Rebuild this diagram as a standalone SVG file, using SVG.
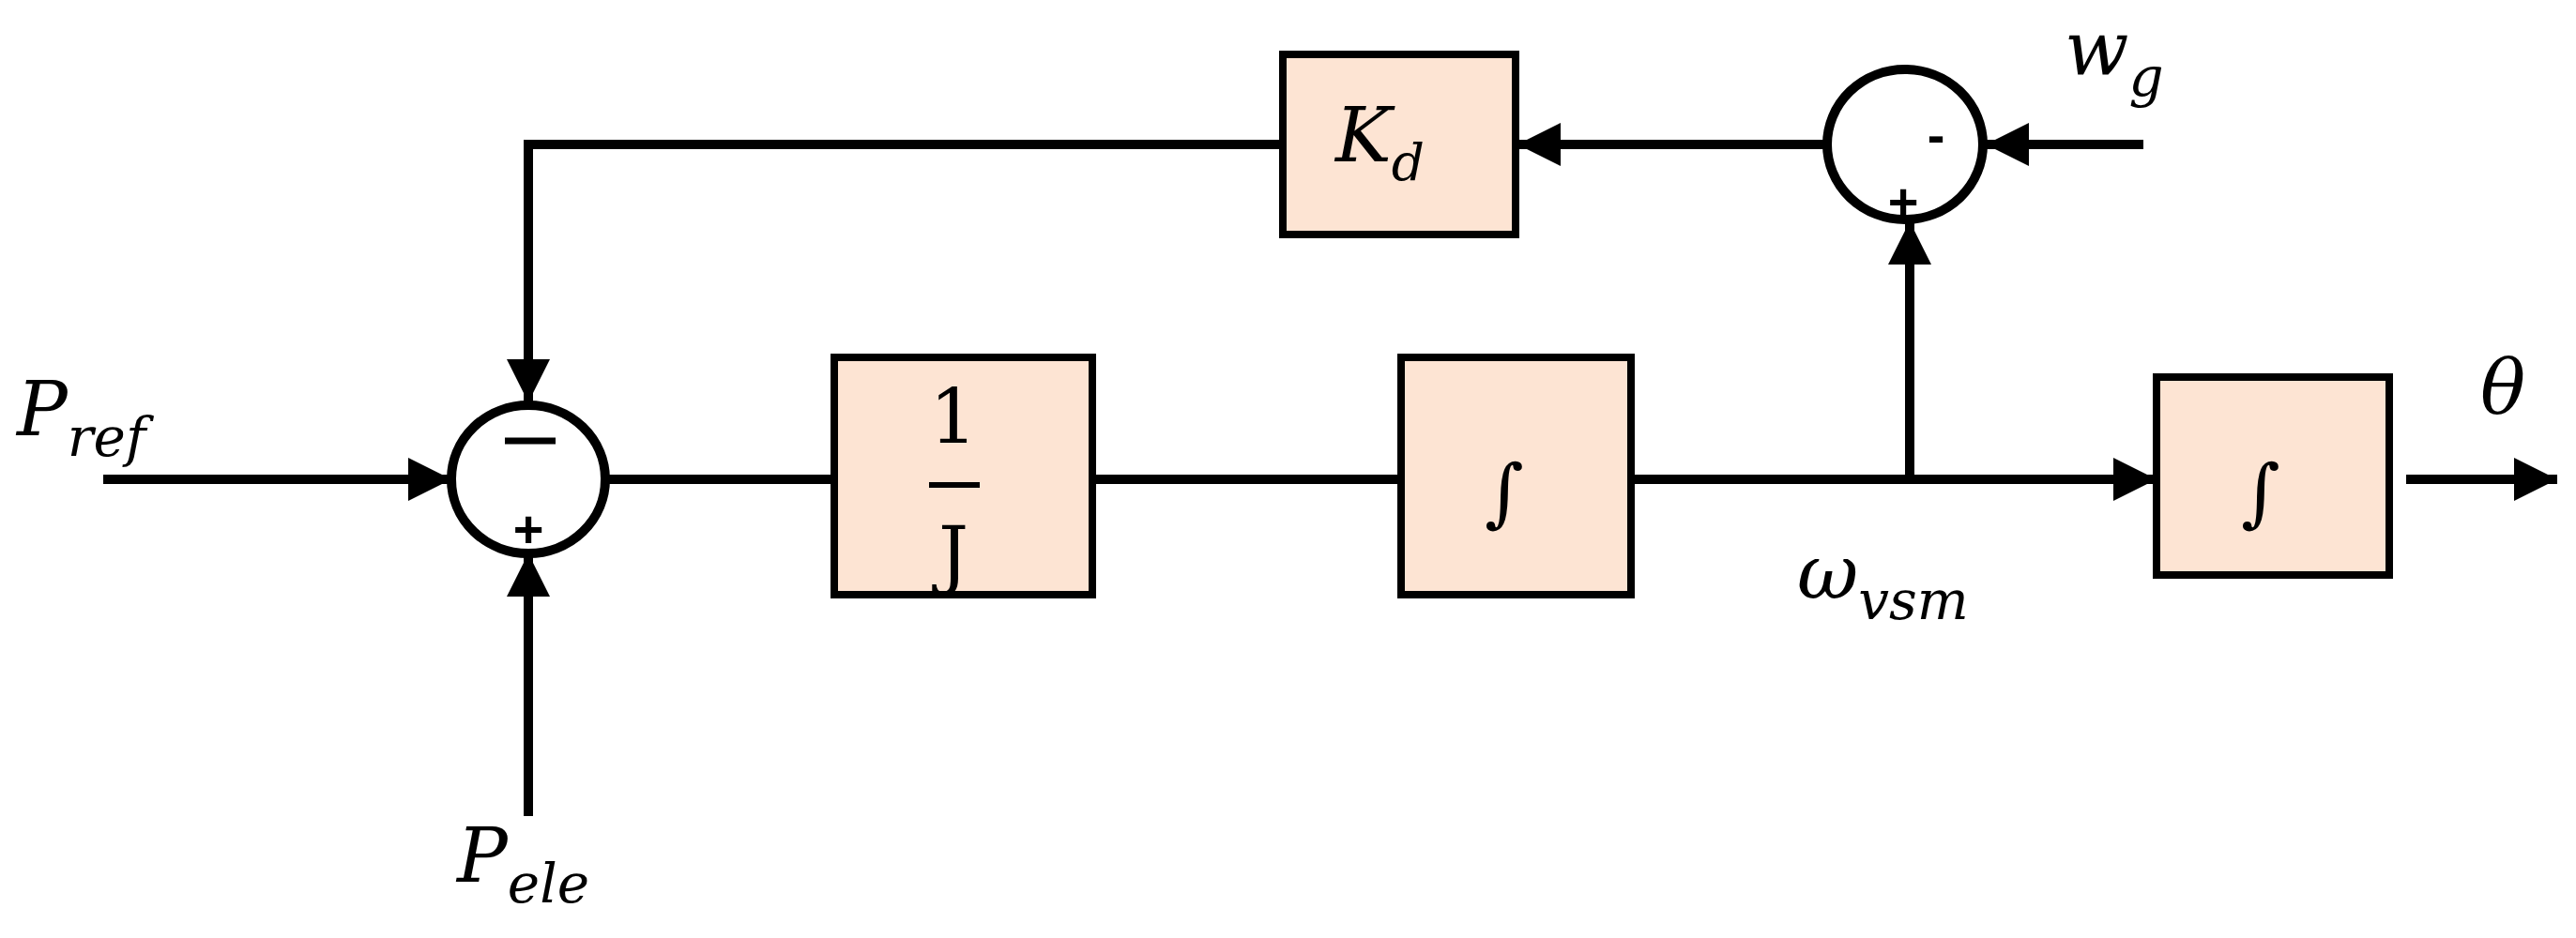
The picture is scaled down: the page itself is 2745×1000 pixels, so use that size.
<svg xmlns="http://www.w3.org/2000/svg" width="2745" height="1000" viewBox="0 0 2745 1000">
<style>
.b{fill:#fde4d3;stroke:#000;stroke-width:8}
.s{fill:none;stroke:#000;stroke-width:10}
.l{fill:none;stroke:#000;stroke-width:10}
.t{font-family:"DejaVu Serif","Liberation Serif",serif;font-style:italic;font-size:80px;fill:#000}
.r{font-family:"DejaVu Serif","Liberation Serif",serif;font-size:80px;fill:#000;text-anchor:middle}
.n{font-family:"Liberation Sans",sans-serif;font-weight:bold;font-size:56px;fill:#000;text-anchor:middle}
</style>
<defs>
<marker id="A" viewBox="0 0 10 10" refX="10" refY="5" markerWidth="50" markerHeight="46" markerUnits="userSpaceOnUse" orient="auto"><path d="M0,0L10,5L0,10z"/></marker></defs>
<g id="connectors">
<line class="l" x1="110" y1="511" x2="481" y2="511" marker-end="url(#A)"/>
<line class="l" x1="563" y1="870" x2="563" y2="590" marker-end="url(#A)"/>
<polyline class="l" points="1367,154 563,154 563,429" marker-end="url(#A)"/>
<line class="l" x1="647" y1="511" x2="889" y2="511"/>
<line class="l" x1="1164" y1="511" x2="1493" y2="511"/>
<line class="l" x1="1738" y1="511" x2="2298" y2="511" marker-end="url(#A)"/>
<line class="l" x1="2035" y1="511" x2="2035" y2="236" marker-end="url(#A)"/>
<line class="l" x1="2284" y1="154" x2="2116" y2="154" marker-end="url(#A)"/>
<line class="l" x1="1946" y1="154" x2="1617" y2="154" marker-end="url(#A)"/>
<line class="l" x1="2564" y1="511" x2="2725" y2="511" marker-end="url(#A)"/>
</g>
<g id="sum1"><ellipse class="s" cx="563" cy="511" rx="82" ry="79"/><line x1="538" y1="470" x2="592" y2="470" stroke="#000" stroke-width="7"/><text class="n" x="563" y="583">+</text></g>
<g id="sum2"><ellipse class="s" cx="2030" cy="154" rx="83" ry="80"/><text class="n" x="2063" y="163">-</text><text class="n" x="2028" y="234">+</text></g>
<g id="inv"><rect class="b" x="889" y="381" width="275" height="253"/><text class="r" x="1016" y="472">1</text><line x1="990" y1="517" x2="1044" y2="517" stroke="#000" stroke-width="6"/><text class="r" x="1016" y="618">J</text></g>
<g id="int1"><rect class="b" x="1493" y="381" width="245" height="253"/><text class="t" x="1582" y="552" font-size="100">∫</text></g>
<g id="int2"><rect class="b" x="2298" y="402" width="248" height="211"/><text class="t" x="2388" y="552" font-size="100">∫</text></g>
<g id="kd"><rect class="b" x="1367" y="58" width="248" height="192"/><text class="t" x="1423" y="172">K<tspan font-size="55" dy="20">d</tspan></text></g>
<g id="labels">
<text class="t" x="18" y="464">P<tspan font-size="58" dy="22">ref</tspan></text>
<text class="t" x="487" y="940">P<tspan font-size="58" dy="22">ele</tspan></text>
<text class="t" x="1915" y="638">ω<tspan font-size="58" dy="22">vsm</tspan></text>
<text class="t" x="2200" y="80">w<tspan font-size="58" dy="22">g</tspan></text>
<text class="t" x="2643" y="440">θ</text>
</g>
</svg>
